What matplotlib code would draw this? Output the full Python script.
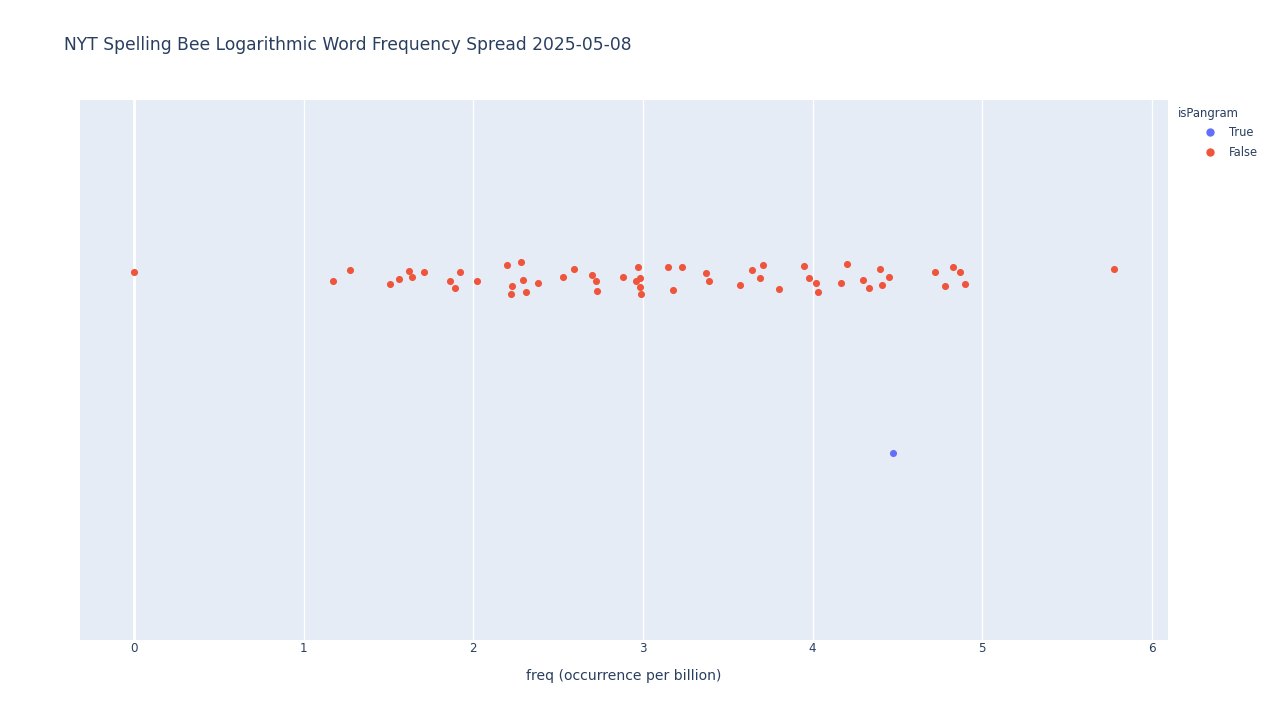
import matplotlib
matplotlib.use("Agg")
import matplotlib.pyplot as plt
from matplotlib.lines import Line2D

plt.rcParams["font.family"] = ["DejaVu Sans"]

# Data (log10 frequency per billion)
false_freq = [0.00, 1.171, 1.271, 1.511, 1.562, 1.621, 1.640, 1.711, 1.861, 1.890,
              1.921, 2.020, 2.200, 2.281, 2.230, 2.220, 2.291, 2.310, 2.381, 2.530,
              2.592, 2.699, 2.721, 2.729, 2.880, 2.970, 2.980, 2.960, 2.980, 2.990,
              3.149, 3.230, 3.179, 3.369, 3.389, 3.570, 3.641, 3.709, 3.689, 3.800,
              3.949, 3.980, 4.020, 4.030, 4.169, 4.200, 4.298, 4.330, 4.399, 4.409,
              4.450, 4.719, 4.780, 4.829, 4.868, 4.898, 5.778]
# strip jitter positions
false_jitter = [0.181, 0.164, 0.186, 0.160, 0.169, 0.183, 0.173, 0.181, 0.164, 0.151,
                0.181, 0.164, 0.194, 0.200, 0.156, 0.140, 0.166, 0.144, 0.162, 0.173,
                0.187, 0.176, 0.165, 0.147, 0.173, 0.190, 0.170, 0.164, 0.154, 0.141,
                0.191, 0.191, 0.148, 0.180, 0.165, 0.157, 0.186, 0.194, 0.170, 0.150,
                0.193, 0.171, 0.161, 0.144, 0.161, 0.197, 0.167, 0.151, 0.187, 0.158,
                0.173, 0.182, 0.156, 0.191, 0.181, 0.159, 0.187]
true_freq = [4.473]
true_jitter = [-0.154]

title = "NYT Spelling Bee Logarithmic Word Frequency Spread 2025-05-08"
xlabel = "freq (occurrence per billion)"
xticks = [0, 1, 2, 3, 4, 5, 6]

TXT = "#2a3f5f"
BG = "#E5ECF6"
C_TRUE = "#636efa"
C_FALSE = "#EF553B"

fig = plt.figure(figsize=(12.8, 7.2), dpi=100)
ax = fig.add_axes([80/1280, 80/720, (1168-80)/1280, (640-100)/720])
ax.set_facecolor(BG)
for s in ax.spines.values():
    s.set_visible(False)

ax.set_xlim(-0.318, 6.094)
ax.set_ylim(-0.5, 0.5)
ax.set_xticks(xticks)
ax.set_xticklabels([str(t) for t in xticks])
ax.tick_params(axis="x", length=0, labelsize=8.6, labelcolor=TXT, pad=1.5)
ax.set_yticks([])
ax.grid(axis="x", color="white", linewidth=1.0)
ax.axvline(0, color="white", linewidth=2.0, zorder=1)
ax.set_axisbelow(True)

ms = 26
ax.scatter(true_freq, true_jitter, s=ms, color=C_TRUE, zorder=3, linewidths=0)
ax.scatter(false_freq, false_jitter, s=ms, color=C_FALSE, zorder=3, linewidths=0)

ax.set_xlabel(xlabel, fontsize=10.1, color=TXT, labelpad=10)

fig.text(64/1280, 1 - 45/720, title, fontsize=12.3, color=TXT, va="center", ha="left")

# legend
handles = [Line2D([0], [0], marker="o", linestyle="", markersize=5, color=C_TRUE, label="True"),
           Line2D([0], [0], marker="o", linestyle="", markersize=5, color=C_FALSE, label="False")]
fig.text(1178/1280, 1 - 113/720, "isPangram", fontsize=8.4, color=TXT, va="center", ha="left")
leg = fig.legend(handles=handles, loc="upper left", bbox_to_anchor=(1197/1280, 1 - 120/720),
                 frameon=False, fontsize=8.3, labelcolor=TXT, handletextpad=1.1,
                 handlelength=1.2, borderpad=0, labelspacing=0.65)

fig.savefig("out.png", dpi=100, facecolor="white")
